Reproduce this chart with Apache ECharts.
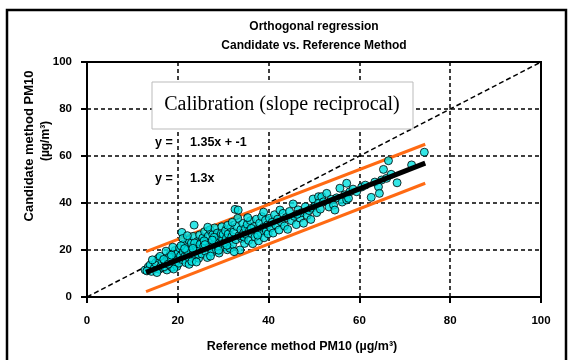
<!DOCTYPE html>
<html>
<head>
<meta charset="utf-8">
<script src="https://cdn.jsdelivr.net/npm/echarts@6/dist/echarts.min.js"></script>
<style>html,body{margin:0;padding:0;background:#fff}#c{width:574px;height:360px}</style>
</head>
<body>
<div id="c"></div>
<script>
var titleLines = ['Orthogonal regression', 'Candidate vs. Reference Method'];
var xAxisTitle = 'Reference method PM10 (µg/m³)';
var yAxisTitle = ['Candidate method PM10', '(µg/m³)'];
var xTicks = [0, 20, 40, 60, 80, 100];
var yTicks = [0, 20, 40, 60, 80, 100];
var identityLine = [[0, 0], [100, 100]];
var calibrationLine = [[13, 10.5], [74.5, 57]];
var upperBand = [[13, 19.3], [74.5, 65]];
var lowerBand = [[13, 2.3], [74.5, 48.4]];
var equations = ['1.35x + -1', '1.3x'];
var points = [
[12.8,11.5],[13.5,12.8],[13.9,13.6],[14.2,10.9],[14.8,12.2],[15.1,14.5],[15.7,16.5],[15.9,11.8],[16.3,13.1],[16.5,15.2],[14.4,15.8],[13.2,11.1],[15.4,10.4],[16.8,12.4],[16.1,17.3],
[17.2,14.8],[17.6,11.5],[17.8,16.2],[18.0,13.5],[18.3,18.1],[18.5,15.4],[18.7,12.6],[19.0,17.0],[19.2,14.2],[19.4,19.8],[19.6,16.1],[19.8,13.0],[20.0,18.6],[17.4,19.5],[18.9,21.2],[17.0,12.9],[18.1,16.9],[19.5,15.0],[20.2,14.4],[20.4,20.9],[16.9,16.0],[19.1,11.9],[20.6,17.5],[17.9,14.0],[18.6,17.8],
[20.9,27.5],[21.0,15.9],[21.2,19.2],[21.4,22.6],[21.6,17.4],[21.8,14.6],[22.0,21.0],[22.2,18.3],[22.4,24.3],[22.6,16.2],[22.8,20.0],[23.0,22.9],[23.2,18.8],[23.4,25.8],[23.6,30.6],[23.8,17.1],[24.0,21.5],[24.2,19.6],[24.4,23.7],[24.6,16.5],[24.8,26.4],[25.0,20.4],[21.1,24.9],[21.9,19.9],[22.5,13.9],[23.1,15.1],[23.7,23.0],[24.5,18.2],[25.2,23.2],[20.7,21.8],[22.1,26.1],[23.3,20.7],[24.1,14.9],[24.9,22.4],[21.5,20.6],
[25.3,18.3],[25.5,25.1],[25.7,21.7],[25.9,27.8],[26.1,19.4],[26.3,23.5],[26.5,16.8],[26.7,25.9],[26.9,21.0],[27.1,28.6],[27.3,23.0],[27.5,19.1],[27.7,26.5],[27.9,22.1],[28.1,29.4],[28.3,24.3],[28.5,20.2],[28.7,27.2],[28.9,23.5],[29.1,18.7],[29.3,25.8],[29.5,22.6],[29.7,29.9],[29.9,24.6],[30.1,21.3],[25.8,23.9],[26.6,29.7],[27.2,17.4],[28.0,25.4],[28.8,21.6],[29.6,27.0],[26.0,22.3],[27.6,24.2],[29.0,19.9],[30.0,26.7],
[30.3,23.1],[30.5,28.2],[30.7,25.0],[30.9,20.1],[31.1,26.8],[31.3,23.9],[31.5,20.7],[31.7,29.5],[31.9,25.7],[32.1,22.4],[32.3,27.6],[32.6,37.3],[32.8,24.4],[33.0,30.0],[33.3,37.0],[33.5,26.1],[33.7,20.0],[33.9,28.7],[34.1,24.9],[34.3,31.3],[34.5,27.3],[34.7,22.8],[34.9,29.1],[31.0,30.5],[32.4,19.3],[33.2,33.5],[34.0,26.0],[30.8,22.0],[32.0,31.8],[34.6,25.5],
[35.1,26.6],[35.3,30.9],[35.6,24.1],[35.8,28.3],[36.0,32.5],[36.3,27.0],[36.5,22.7],[36.8,30.0],[37.0,25.5],[37.3,33.1],[37.5,28.7],[37.8,23.9],[38.0,31.4],[38.3,27.4],[38.5,34.2],[38.8,29.6],[39.0,25.2],[39.3,32.6],[39.5,28.1],[39.8,30.7],[36.2,29.2],[37.6,26.3],[38.9,36.1],[35.4,33.8],[39.9,26.9],
[40.2,33.5],[40.5,29.4],[40.8,31.8],[41.0,27.2],[41.3,35.0],[41.6,30.6],[42.0,33.1],[42.5,37.0],[42.3,28.5],[42.8,31.9],[43.2,35.6],[43.5,30.2],[43.9,33.8],[44.2,28.8],[44.6,36.4],[45.0,32.5],[45.4,39.6],[45.7,34.3],[46.1,30.8],[46.5,37.1],[46.9,33.6],[47.3,35.9],[47.7,31.4],[48.1,38.4],[48.5,34.7],[48.9,36.8],[49.3,33.0],[49.8,41.7],[49.5,37.8],[46.3,35.2],
[50.2,38.7],[50.6,35.9],[51.0,42.7],[51.0,39.9],[51.4,37.4],[51.7,42.7],[52.1,40.5],[52.8,44.1],[53.3,38.3],[53.8,41.6],[54.3,39.1],[54.6,37.0],[55.0,42.2],[55.7,46.3],[56.2,40.4],[56.8,43.5],[57.2,48.4],[57.2,41.3],[57.6,42.0],[57.9,44.8],[58.6,45.9],[59.4,44.8],
[60.5,46.8],[61.3,47.6],[62.6,42.4],[63.4,48.9],[64.2,46.9],[64.4,44.1],[64.9,49.8],[65.3,54.3],[66.0,50.5],[66.4,58.0],[67.0,52.2],[68.3,48.6],[71.5,56.2],[74.3,61.6]
];

var chart = echarts.init(document.getElementById('c'), null, {renderer: 'canvas'});
var F = 'Liberation Sans, Arial, sans-serif';
var axisCommon = {
  min: 0, max: 100, interval: 20,
  axisLine: {show: true, onZero: false, lineStyle: {color: '#000', width: 2}},
  axisTick: {show: true, length: 6, lineStyle: {color: '#000', width: 2}},
  splitLine: {show: true, lineStyle: {color: '#000', width: 1.5, type: [4, 3]}},
  axisLabel: {color: '#000', fontFamily: F, fontWeight: 'bold', fontSize: 11.5}
};
chart.setOption({
  animation: false,
  backgroundColor: '#fff',
  grid: {left: 87, right: 33, top: 62, bottom: 63, show: true, borderColor: '#000', borderWidth: 2, backgroundColor: 'transparent'},
  xAxis: Object.assign({}, axisCommon, {
    type: 'value',
    axisLabel: Object.assign({}, axisCommon.axisLabel, {margin: 18, formatter: function (v) { return xTicks.indexOf(v) >= 0 ? String(v) : ''; }})
  }),
  yAxis: Object.assign({}, axisCommon, {
    type: 'value',
    axisLabel: Object.assign({}, axisCommon.axisLabel, {margin: 15, formatter: function (v) { return yTicks.indexOf(v) >= 0 ? String(v) : ''; }})
  }),
  graphic: [
    {type: 'rect', shape: {x: 7, y: 10, width: 559, height: 370}, style: {fill: 'none', stroke: '#000', lineWidth: 2.5}, z: 100},
    {type: 'text', x: 314, y: 27, style: {text: titleLines[0], font: 'bold 12px ' + F, fill: '#000', align: 'center', verticalAlign: 'middle'}},
    {type: 'text', x: 314, y: 46, style: {text: titleLines[1], font: 'bold 12px ' + F, fill: '#000', align: 'center', verticalAlign: 'middle'}},
    {type: 'text', x: 302, y: 347, style: {text: xAxisTitle, font: 'bold 12.5px ' + F, fill: '#000', align: 'center', verticalAlign: 'middle'}},
    {type: 'text', rotation: Math.PI / 2, x: 29, y: 146, style: {text: yAxisTitle[0], font: 'bold 13px ' + F, fill: '#000', align: 'center', verticalAlign: 'middle'}},
    {type: 'text', rotation: Math.PI / 2, x: 46, y: 141, style: {text: yAxisTitle[1], font: 'bold 12px ' + F, fill: '#000', align: 'center', verticalAlign: 'middle'}},
    {type: 'rect', shape: {x: 152, y: 82, width: 261, height: 47}, style: {fill: '#fff', stroke: '#bbb', lineWidth: 1}, z: 50},
    {type: 'text', x: 282, y: 105, style: {text: 'Calibration (slope reciprocal)', font: '20px Liberation Serif, Times New Roman, serif', fill: '#000', align: 'center', verticalAlign: 'middle'}, z: 51},
    {type: 'text', x: 155, y: 143, style: {text: 'y =', font: 'bold 12.5px ' + F, fill: '#000', verticalAlign: 'middle'}, z: 51},
    {type: 'text', x: 190, y: 143, style: {text: equations[0], font: 'bold 12.5px ' + F, fill: '#000', verticalAlign: 'middle'}, z: 51},
    {type: 'text', x: 155, y: 179, style: {text: 'y =', font: 'bold 12.5px ' + F, fill: '#000', verticalAlign: 'middle'}, z: 51},
    {type: 'text', x: 190, y: 179, style: {text: equations[1], font: 'bold 12.5px ' + F, fill: '#000', verticalAlign: 'middle'}, z: 51}
  ],
  series: [
    {type: 'line', data: identityLine, symbol: 'none', lineStyle: {color: '#000', width: 1.5, type: [5, 3]}, z: 2},
    {type: 'line', data: upperBand, symbol: 'none', lineStyle: {color: '#ff6a13', width: 3}, z: 3},
    {type: 'line', data: lowerBand, symbol: 'none', lineStyle: {color: '#ff6a13', width: 3}, z: 3},
    {type: 'scatter', data: points, symbol: 'circle', symbolSize: 8, itemStyle: {color: '#00e0e0', borderColor: '#000', borderWidth: 1}, z: 4},
    {type: 'line', data: calibrationLine, symbol: 'none', lineStyle: {color: '#000', width: 5}, z: 5}
  ]
});
</script>
</body>
</html>
